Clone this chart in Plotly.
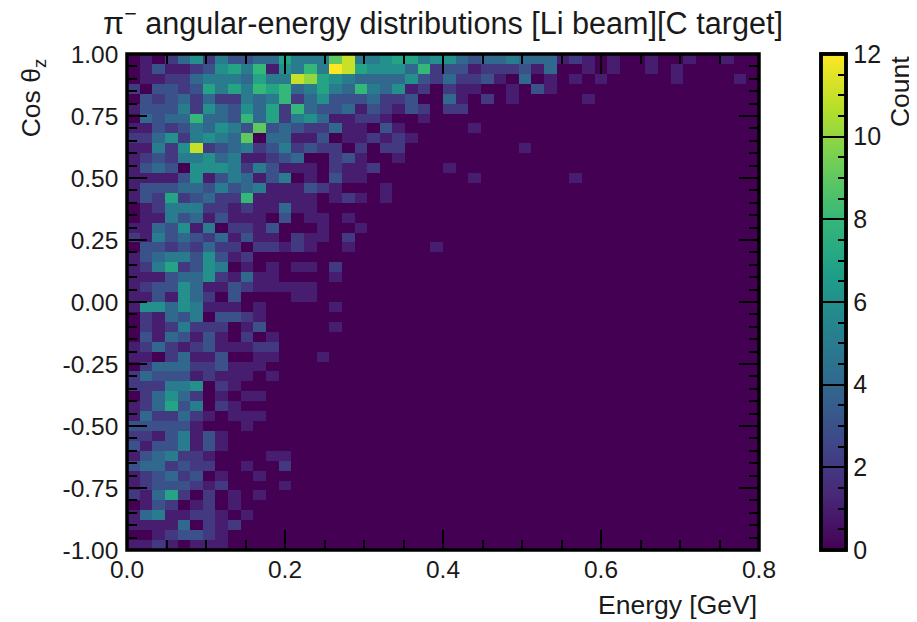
import numpy as np
import plotly.graph_objects as go

title_text = "π<sup>−</sup> angular-energy distributions [Li beam][C target]"
x_label = "Energy [GeV]"
y_label = "Cos θ<sub>z</sub>"
cbar_label = "Count"
x_ticks = [0.0, 0.2, 0.4, 0.6, 0.8]
x_tick_labels = ["0.0", "0.2", "0.4", "0.6", "0.8"]
y_ticks = [-1.0, -0.75, -0.5, -0.25, 0.0, 0.25, 0.5, 0.75, 1.0]
y_tick_labels = ["-1.00", "-0.75", "-0.50", "-0.25", "0.00", "0.25", "0.50", "0.75", "1.00"]
cbar_ticks = [0, 2, 4, 6, 8, 10, 12]
cbar_minor_ticks = [0.5, 1, 1.5, 2.5, 3, 3.5, 4.5, 5, 5.5, 6.5, 7, 7.5, 8.5, 9, 9.5, 10.5, 11, 11.5]
n_energy_bins = 50
n_cos_bins = 50

# Counts per bin, top row (cos = 1) first, lowest energy first; bins past the end of a row are empty.
rows_top_down = [
    [0,1,0,2,4,6,2,5,3,3,4,4,7,5,5,5,9,11,5,5,6,7,7,5,6,6,4,3,4,4,5,4,4,4,1,2,1,0,1,0,0,1,0,0,1,0,0,1],
    [0,1,3,1,1,2,3,6,7,5,8,1,6,5,8,5,12,11,7,6,6,6,4,8,2,3,3,1,2,2,2,3,1,4,0,0,1,0,1,0,0,1,0,1],
    [0,1,1,2,2,4,5,5,5,4,7,5,5,11,10,7,6,5,4,4,4,4,6,3,2,4,2,2,3,1,0,4,0,1,0,1,0,1,0,0,0,0,0,1,0,0,0,0,1],
    [2,0,3,3,2,3,7,5,7,5,8,7,8,4,5,7,5,4,8,5,4,6,1,2,0,2,1,1,0,0,1,0,3,1],
    [0,3,2,3,4,2,4,2,2,5,4,5,8,2,4,6,3,3,3,4,2,2,3,0,0,4,1,0,2,0,1,0,0,0,0,0,1],
    [1,3,3,3,5,2,6,4,3,6,4,7,2,8,4,3,3,4,1,3,2,1,3,2,0,2,2],
    [0,4,3,4,4,8,4,4,3,8,4,7,2,5,6,4,1,1,2,2,1,0,0,1],
    [1,1,3,2,3,5,4,6,5,3,9,3,4,3,2,2,4,1,1,0,3,1,0,0,0,0,0,1],
    [2,2,4,6,2,5,6,5,4,9,0,4,4,1,1,3,0,1,1,2,1,2,1],
    [1,1,5,2,6,11,2,3,4,5,2,3,5,2,3,2,2,0,2,0,2,2,0,0,0,0,0,0,0,0,0,1],
    [1,2,3,2,5,5,6,4,5,1,1,2,3,4,0,0,2,3,1,0,0,1],
    [1,3,4,3,0,6,6,6,5,2,5,3,1,1,1,0,2,1,1,2,0,0,0,0,0,1],
    [1,1,1,1,3,6,1,3,5,4,1,3,5,0,1,0,3,1,1,0,0,0,0,0,0,0,0,1,0,0,0,0,0,0,0,1],
    [1,3,3,3,4,4,3,5,3,4,5,1,1,1,3,2,1,0,0,0,1],
    [1,3,2,7,2,3,4,2,2,8,1,1,1,1,1,0,1,2,1,0,1],
    [0,1,2,5,5,5,2,2,1,2,1,1,4,1,1],
    [0,1,1,5,3,4,1,3,1,1,1,0,3,0,1,1,0,1],
    [1,1,4,3,6,1,5,0,2,2,1,3,0,0,0,1,0,0,1],
    [2,1,5,3,4,3,2,4,1,3,1,1,0,2,1,1,0,2],
    [0,3,3,2,3,2,4,2,2,0,2,2,1,2,1,0,0,1,0,0,0,0,0,0,1],
    [1,3,4,5,5,3,6,3,1,2],
    [1,2,5,7,2,3,6,5,0,1,0,1,0,1,1,0,2],
    [1,1,1,3,4,4,6,2,1,4,1,1,0,0,0,0,1],
    [1,2,3,3,6,4,1,1,3,2,1,1,1,1,1],
    [1,1,3,1,6,4,2,0,3,0,0,0,0,1,1],
    [1,6,6,4,6,5,1,1,1,0,1,0,0,0,0,0,1],
    [0,2,1,4,3,5,0,3,3,2,1],
    [0,2,1,2,5,2,2,2,0,1,3,0,0,0,0,0,1],
    [0,3,1,4,3,1,3,1,0,2,0,1],
    [1,2,4,2,1,2,3,1,1,1,2,2],
    [1,1,0,2,4,1,1,3,0,0,1,1,0,0,0,1],
    [0,2,4,4,4,2,2,3,1,1,1],
    [2,4,3,3,3,1,2,1,1,1,0,1],
    [2,2,2,5,5,6,0,2,1],
    [0,2,4,6,4,2,0,1,0,1,1],
    [1,2,4,7,3,5,0,2,1],
    [1,4,2,2,4,2,1,0,1,1,1],
    [3,3,3,3,3,1,0,0,0,1],
    [2,2,1,3,5,1,3,1],
    [3,1,3,3,5,1,3,1],
    [1,3,4,5,2,2,1,0,0,0,0,1,1],
    [3,4,4,2,3,2,2,0,0,1,0,0,2],
    [1,2,3,4,2,3,0,1,0,0,1],
    [1,2,3,3,3,2,1,2,0,0,0,0,1],
    [2,1,4,7,2,0,2,0,1,0,1],
    [0,1,3,2,0,1,2,0,1],
    [1,4,5,1,1,2,2,1,0,1],
    [1,1,1,1,4,0,2,1,2],
    [0,0,1,2,3,3,2,1],
    [1,1,2,1,0,1,1,1],
]

counts = [row + [0] * (n_energy_bins - len(row)) for row in rows_top_down]
energy_edges = np.linspace(0.0, 0.8, n_energy_bins + 1)
cos_edges = np.linspace(1.0, -1.0, n_cos_bins + 1)

FONT = "Liberation Sans, Arial, sans-serif"
TXT = "#1a1a1a"

cbar_common = dict(
    x=1.0986, xref="paper", xanchor="left", xpad=0,
    y=0.5, yanchor="middle", ypad=0, len=1, lenmode="fraction",
    thickness=25, thicknessmode="pixels",
    outlinecolor="black", outlinewidth=3.5,
    tickmode="array", ticks="inside", tickwidth=1.5, tickcolor="black",
    tickfont=dict(family=FONT, size=25, color=TXT),
)

fig = go.Figure()
# visible map, its colour bar carrying the short minor ticks
fig.add_trace(go.Heatmap(
    x=energy_edges, y=cos_edges, z=counts,
    colorscale="Viridis", zmin=0, zmax=12, zsmooth=False,
    colorbar=dict(tickvals=cbar_minor_ticks, ticklen=9.5, showticklabels=False, **cbar_common),
))
# fully transparent twin whose see-through colour bar adds the long major ticks and labels
fig.add_trace(go.Heatmap(
    x=energy_edges, y=cos_edges, z=counts,
    colorscale=[[0, "rgba(0,0,0,0)"], [1, "rgba(0,0,0,0)"]], zmin=0, zmax=12, zsmooth=False,
    hoverinfo="skip",
    colorbar=dict(tickvals=cbar_ticks, ticktext=[str(t) for t in cbar_ticks], ticklen=25, **cbar_common),
))

axis_common = dict(
    showgrid=False, zeroline=False, showline=True, linecolor="black", linewidth=0.5,
    mirror="allticks", ticks="inside", tickcolor="black", tickwidth=1.5,
    tickfont=dict(family=FONT, size=24.5, color=TXT), tickmode="array",
)
fig.update_xaxes(
    range=[0, 0.8], tickvals=x_ticks, ticktext=x_tick_labels, ticklen=20, ticklabelstandoff=-2,
    minor=dict(dtick=0.05, tick0=0, ticks="inside", ticklen=10, tickcolor="black", tickwidth=1.5, showgrid=False),
    **axis_common,
)
fig.update_yaxes(
    range=[-1, 1], tickvals=y_ticks, ticktext=y_tick_labels, ticklen=20, ticklabelstandoff=3,
    minor=dict(dtick=0.05, tick0=0, ticks="inside", ticklen=10, tickcolor="black", tickwidth=1.5, showgrid=False),
    **axis_common,
)

# frame centred on the plot edges, drawn over the cells
fig.add_shape(type="rect", xref="paper", yref="paper", x0=0, x1=1, y0=0, y1=1,
              line=dict(color="black", width=3.5), fillcolor="rgba(0,0,0,0)", layer="above")

fig.add_annotation(text=x_label, xref="paper", yref="paper", x=1.0, y=-0.076,
                   xanchor="right", yanchor="top", showarrow=False,
                   font=dict(family=FONT, size=26.5, color=TXT))
fig.add_annotation(text=y_label, xref="paper", yref="paper", x=-0.1475, y=0.996,
                   xanchor="center", yanchor="top", textangle=-90, showarrow=False,
                   font=dict(family=FONT, size=26.5, color=TXT))
fig.add_annotation(text=cbar_label, xref="paper", yref="paper", x=1.2225, y=1.0,
                   xanchor="center", yanchor="top", textangle=-90, showarrow=False,
                   font=dict(family=FONT, size=26.5, color=TXT))

fig.update_layout(
    width=909, height=614,
    margin=dict(l=118.5, r=157.7, t=46.3, b=72.3, pad=0, autoexpand=False),
    paper_bgcolor="white", plot_bgcolor="white",
    title=dict(text=title_text, xref="paper", x=0.5, xanchor="center",
               yref="container", y=0.975, yanchor="middle",
               font=dict(family=FONT, size=30.6, color=TXT)),
)
fig.write_html("out.html")
